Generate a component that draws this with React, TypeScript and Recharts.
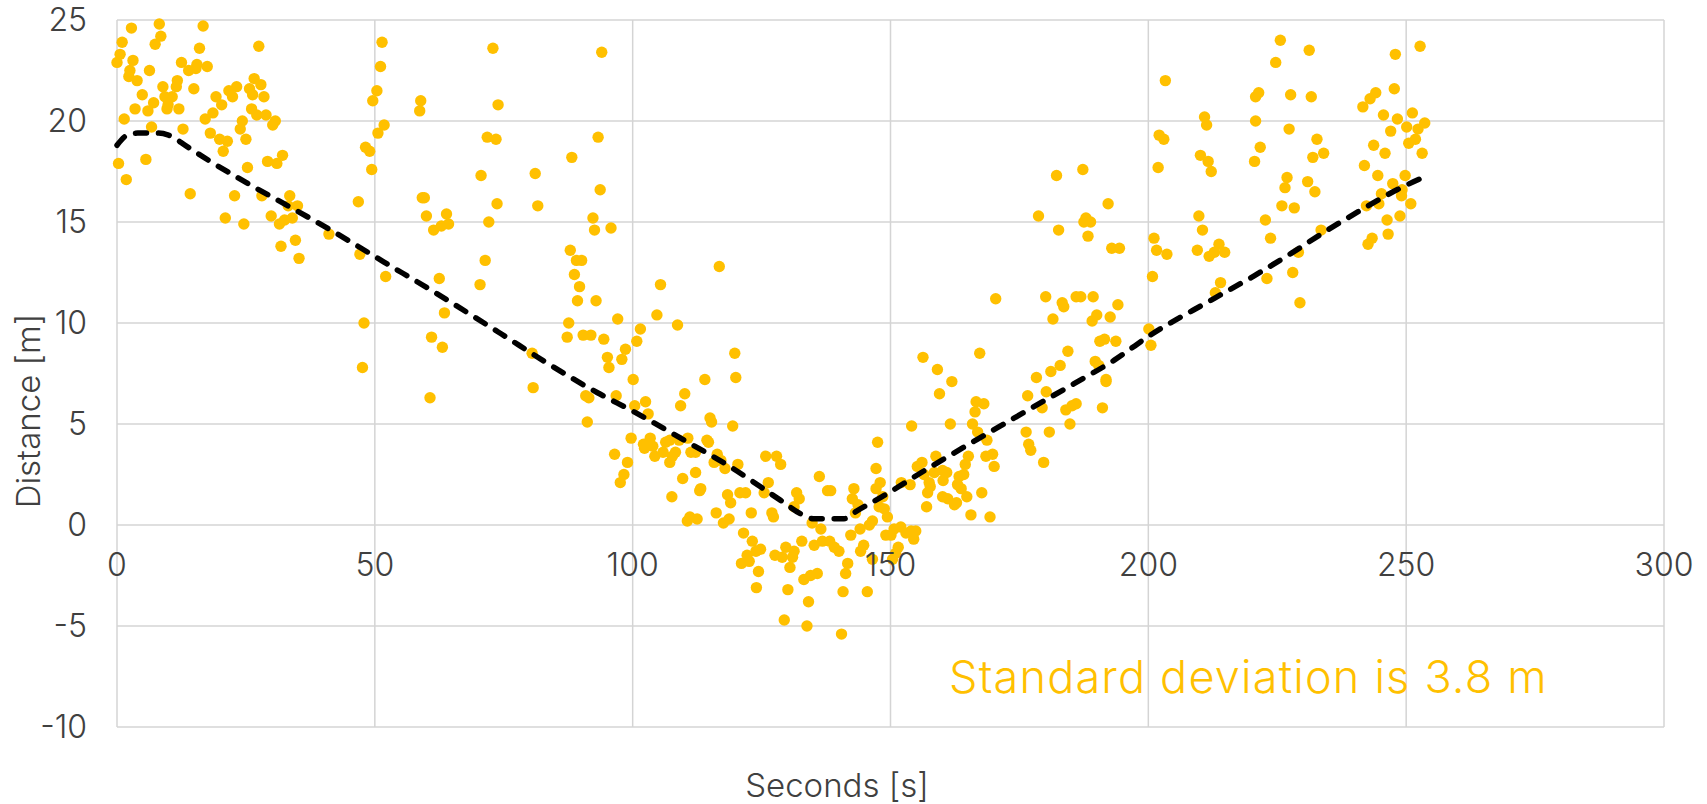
import { ScatterChart, Scatter, XAxis, YAxis, CartesianGrid } from 'recharts';

// measured samples, [seconds, distance]
const startCluster: [number, number][] = [
  [0, 22.9], [0.6, 23.3], [1, 23.9], [2.8, 24.6], [8.2, 24.8], [16.7, 24.7], [8.5, 24.2], [7.4, 23.8], [16, 23.6], [27.5, 23.7],
  [3.1, 23], [6.3, 22.5], [2.5, 22.5], [2.3, 22.2], [3.9, 22], [12.5, 22.9], [15.5, 22.8], [17.5, 22.7], [13.9, 22.5], [15.3, 22.6],
  [8.9, 21.7], [11.7, 22], [11.5, 21.7], [10.7, 21.2], [9.3, 21.2], [4.9, 21.3], [7.1, 20.9], [9.9, 20.8], [9.7, 20.6], [6, 20.5],
  [3.5, 20.6], [12, 20.6], [14.9, 21.6], [1.4, 20.1], [6.7, 19.7], [12.8, 19.6], [5.6, 18.1], [0.3, 17.9], [1.8, 17.1], [14.2, 16.4],
  [19.2, 21.2], [20.3, 20.8], [18.6, 20.4], [17.1, 20.1], [18.1, 19.4], [21.7, 21.5], [22.4, 21.2], [23.2, 21.7], [19.9, 19.1], [21.4, 19],
  [20.6, 18.5], [24.3, 20], [23.9, 19.6], [25, 19.1], [25.3, 17.7], [25.7, 21.6], [26.3, 21.3], [26.6, 22.1], [27.9, 21.8], [28.5, 21.2],
  [26.1, 20.6], [27.1, 20.3], [28.9, 20.3], [30.7, 20], [30.2, 19.8], [29.2, 18], [31, 17.9], [32.1, 18.3], [22.8, 16.3], [28.1, 16.3],
  [33.5, 16.3], [33.2, 15.8], [35, 15.8], [21, 15.2], [24.6, 14.9], [29.9, 15.3], [31.5, 14.9], [32.5, 15.1], [34, 15.2], [31.8, 13.8],
  [34.6, 14.1], [35.3, 13.2], [41.1, 14.4],
];

const descentPoints: [number, number][] = [
  [46.8, 16], [47.1, 13.4], [52.1, 12.3], [47.9, 10], [47.6, 7.8], [51.4, 23.9], [51.1, 22.7], [50.4, 21.5], [49.6, 21], [51.8, 19.8],
  [50.6, 19.4], [48.2, 18.7], [49, 18.5], [49.4, 17.6], [58.9, 21], [58.7, 20.5], [72.9, 23.6], [73.9, 20.8], [71.8, 19.2], [73.5, 19.1],
  [70.6, 17.3], [73.7, 15.9], [59.2, 16.2], [59.6, 16.2], [60, 15.3], [63.9, 15.4], [62.9, 14.8], [64.3, 14.9], [61.4, 14.6], [72.1, 15],
  [71.4, 13.1], [70.4, 11.9], [62.5, 12.2], [63.5, 10.5], [61, 9.3], [63.1, 8.8], [60.7, 6.3], [80.7, 6.8],
  [94, 23.4], [93.3, 19.2], [88.2, 18.2], [81.1, 17.4], [93.7, 16.6], [81.6, 15.8], [92.3, 15.2], [92.6, 14.6], [95.8, 14.7], [87.9, 13.6],
  [89.1, 13.1], [90.1, 13.1], [88.7, 12.4], [89.7, 11.8], [89.3, 11.1], [92.9, 11.1], [97.1, 10.2], [87.6, 10], [87.3, 9.3], [90.4, 9.4],
  [91.9, 9.4], [94.4, 9.2], [80.5, 8.5], [95.1, 8.3], [95.4, 7.8], [97.9, 8.2], [98.6, 8.7], [100.8, 9.1], [101.5, 9.7], [104.7, 10.4],
  [108.7, 9.9], [105.4, 11.9], [116.8, 12.8], [119.8, 8.5], [120, 7.3], [114, 7.2], [100.1, 7.2],
];

const valleyPoints: [number, number][] = [
  [90.9, 6.4], [91.5, 6.3], [96.8, 6.4], [91.2, 5.1], [100.4, 5.9], [102.5, 6.1], [103, 5.5], [110.1, 6.5], [109.3, 5.9], [115, 5.3],
  [115.3, 5.1], [119.4, 4.9], [99.7, 4.3], [103.4, 4.3], [102.1, 4], [102.3, 3.8], [103.9, 3.9], [106.4, 4.1], [107.2, 4.2], [109, 4.2],
  [110.7, 4.3], [108.3, 3.6], [107.7, 3.4], [107.2, 3.1], [105.9, 3.6], [104.3, 3.4], [111.3, 3.6], [112.2, 3.6], [114.7, 4.1], [114.4, 4.2],
  [116.4, 3.5], [115.8, 3.1], [117.1, 3.2], [117.9, 2.8], [120.4, 3], [96.5, 3.5], [99, 3.1], [98.3, 2.5], [97.6, 2.1], [109.7, 2.3],
  [112.2, 2.6], [113, 1.7], [113.2, 1.8], [107.6, 1.4], [118.4, 1.5], [119, 1.1], [120.8, 1.6], [121.9, 1.6], [116.2, 0.6], [123, 0.6],
  [110.6, 0.2], [111.1, 0.4], [112.5, 0.3], [117.6, 0.1], [118.7, 0.3], [125.8, 3.4], [127.9, 3.4], [128.7, 3], [125.5, 1.6], [126.3, 2.1],
  [127, 0.6], [127.3, 0.4], [131.8, 1.6], [132.3, 1.3], [131.3, 0.9], [136.2, 2.4], [137.8, 1.7], [138.4, 1.7], [142.9, 1.8], [142.6, 1.3],
  [143.7, 1], [143.2, 0.6], [147.5, 4.1], [147.2, 2.8], [147.2, 1.8], [147.8, 0.9], [134.8, 0.1], [136.5, -0.2], [121.5, -0.4], [123.2, -0.8],
  [124.8, -1.2], [123.9, -1.3], [122.2, -1.5], [121.1, -1.9], [122.6, -1.8], [124.4, -2.3], [124, -3.1], [127.6, -1.5], [129, -1.6], [129.7, -1.1],
  [131.3, -1.3], [131, -1.6], [130.5, -2.1], [132.8, -0.8], [135.2, -1], [136.8, -0.8], [138.2, -0.8], [139.1, -1.1], [140, -1.3], [142.3, -0.5],
  [144.1, -0.2], [145.9, 0], [146.5, 0.2], [144.8, -1], [144.2, -1.3], [141.7, -1.9], [141.3, -2.4], [133.2, -2.7], [134.5, -2.5], [135.8, -2.4],
  [130.1, -3.2], [134.1, -3.8], [140.8, -3.3], [145.5, -3.3], [129.4, -4.7], [133.8, -5], [140.5, -5.4], [146.5, -1.7],
];

const risePoints: [number, number][] = [
  [148, 2.1], [148.5, 1.4], [148.8, 0.8], [149.4, 0.4], [149.1, -0.5], [150.1, -0.5], [150.7, -0.2], [152, -0.1], [153, -0.4], [154, -0.3],
  [154.9, -0.3], [154.5, -0.7], [151.5, -1.1], [151, -1.4], [150.4, -1.7], [152.1, 2.1], [153.8, 2], [155.2, 2.9], [156.1, 3.1], [156.5, 2.5],
  [158.8, 3.4], [157.5, 2.1], [157.7, 1.9], [157.2, 1.6], [157, 0.9], [158.5, 2.6], [160.1, 2.7], [160.9, 2.6], [160.2, 2.2], [160.1, 1.4],
  [161.1, 1.3], [162.4, 1], [162.8, 1.1], [163.3, 2.4], [164.2, 2.5], [163, 2], [163.7, 1.8], [164.8, 1.4], [164.5, 3], [165.1, 3.4],
  [165.6, 0.5], [167.7, 1.6], [169.3, 0.4], [165.9, 5], [166.4, 5.6], [166.6, 6.1], [168.1, 6], [166.9, 4.6], [168.7, 4.2], [168.5, 3.4],
  [169.8, 3.5], [170.1, 2.9], [154.1, 4.9], [161.6, 5], [159.5, 6.5], [156.3, 8.3], [159.1, 7.7], [167.3, 8.5], [161.9, 7.1],
  [180.2, 6.6], [176.6, 6.4], [179.4, 5.8], [184, 5.7], [185.2, 5.9], [186, 6], [184.8, 5], [180.8, 4.6], [176.3, 4.6], [176.8, 4],
  [177.2, 3.7], [179.7, 3.1], [191.1, 5.8], [191.8, 7.1], [170.4, 11.2], [180.1, 11.3], [183.3, 11], [183.6, 10.8], [186, 11.3], [186.9, 11.3],
  [189.3, 11.3], [194.1, 10.9], [181.5, 10.2], [190, 10.4], [189.1, 10.1], [192.6, 10.3], [200.1, 9.7], [200.5, 8.9], [190.6, 9.1], [191.5, 9.2],
  [193.7, 9.1], [184.4, 8.6], [189.7, 8.1], [190.4, 7.9], [182.9, 7.9], [181.1, 7.6], [178.3, 7.3], [191.8, 7.2],
  [182.2, 17.3], [187.3, 17.6], [192.2, 15.9], [178.7, 15.3], [182.6, 14.6], [187.9, 15.2], [187.5, 15], [188.8, 15], [188.3, 14.3], [192.9, 13.7],
  [194.4, 13.7],
];

const endCluster: [number, number][] = [
  [203.3, 22], [210.9, 20.2], [211.3, 19.8], [220.8, 21.2], [221.4, 21.4], [220.8, 20], [221.7, 18.7], [220.6, 18], [202.1, 19.3], [203, 19.1],
  [201.9, 17.7], [210.1, 18.3], [211.6, 18], [212.2, 17.5], [209.8, 15.3], [210.5, 14.6], [201.1, 14.2], [201.6, 13.6], [203.6, 13.4], [209.5, 13.6],
  [211.8, 13.3], [212.8, 13.5], [213.7, 13.9], [214.8, 13.5], [200.8, 12.3], [214, 12], [213, 11.5],
  [225.6, 24], [231.2, 23.5], [224.7, 22.9], [252.7, 23.7], [247.9, 23.3], [227.6, 21.3], [231.6, 21.2], [227.3, 19.6], [232.7, 19.1], [231.9, 18.2],
  [234, 18.4], [241.6, 20.7], [243, 21.1], [244.1, 21.4], [247.7, 21.6], [245.6, 20.3], [248.3, 20.1], [251.2, 20.4], [250.1, 19.7], [252.3, 19.6],
  [253.6, 19.9], [247, 19.5], [251.8, 19.1], [250.5, 18.9], [253.1, 18.4], [243.7, 18.8], [245.9, 18.4], [241.9, 17.8], [244.5, 17.3], [249.8, 17.3],
  [247.4, 16.9], [249.2, 16.6], [249.1, 16.3], [245.2, 16.4], [250.9, 15.9], [244.7, 15.9], [242.3, 15.8], [246.3, 15.1], [248.8, 15.3], [246.5, 14.4],
  [242.6, 13.9], [243.4, 14.2], [226.9, 17.2], [226.5, 16.7], [230.9, 17], [232.3, 16.5], [225.9, 15.8], [228.3, 15.7], [222.7, 15.1], [223.7, 14.2],
  [233.5, 14.6], [229.1, 13.5], [228, 12.5], [223, 12.2], [229.4, 11],
];

// moving-average trend
const trendLine: [number, number][] = [
  [0, 18.8], [2, 19.3], [4, 19.4], [8, 19.4], [10, 19.3], [13.6, 18.73], [18.1, 18.0], [25.9, 16.83], [32.3, 15.92], [42, 14.52],
  [51.7, 13.03], [61.4, 11.55], [74.4, 9.48], [83.4, 8.02], [93.1, 6.56], [100.3, 5.6], [109.3, 4.3], [119, 2.87], [128.7, 1.22], [133, 0.5],
  [135, 0.31], [141, 0.31], [143.5, 0.7], [148.3, 1.39], [157.2, 2.79], [168.8, 4.53], [176.6, 5.68], [185.6, 7], [193.4, 8.16], [199.9, 9.32],
  [212.8, 11.22], [220.6, 12.35], [227.7, 13.45], [233.5, 14.4], [241.3, 15.6], [248.4, 16.62], [253.7, 17.25],
];

const xTicks = [0, 50, 100, 150, 200, 250, 300];
const yTicks = [-10, -5, 0, 5, 10, 15, 20, 25];

const W = 1707;
const H = 804;
const margin = { top: 20, right: 43, bottom: 76, left: 0 };
const FONT = 'Inter, "Noto Sans", sans-serif';
const GOLD = '#FFC000';
const TEXT = '#404040';

const toPoints = (pairs: [number, number][]) => pairs.map(([x, y]) => ({ x, y }));
const scatterData = toPoints([...startCluster, ...descentPoints, ...valleyPoints, ...risePoints, ...endCluster]);
const trendData = toPoints(trendLine);

// x labels sit next to the y = 0 line, not at the bottom of the plot
const plotH = H - margin.top - margin.bottom - 1;
const zeroLift = (plotH * (0 - yTicks[0])) / (yTicks[yTicks.length - 1] - yTicks[0]);

const XTick = (props: any) => {
  const { x, y, payload } = props;
  return (
    <text x={x} y={y - 1 - zeroLift + 40} textAnchor="middle" dominantBaseline="central"
      fill={TEXT} fontSize={32} fontFamily={FONT} fontWeight={300}>
      {payload.value}
    </text>
  );
};

const Dot = (props: any) => <circle cx={props.cx} cy={props.cy} r={5.7} fill={GOLD} />;

export default function App() {
  return (
    <div style={{ position: 'absolute', left: 0, top: 0, width: W, height: H, background: '#fff' }}>
      <ScatterChart width={W} height={H} margin={margin}>
        <CartesianGrid stroke="#d4d4d4" strokeWidth={1.5} />
        <XAxis type="number" dataKey="x" domain={[0, 300]} ticks={xTicks} height={1}
          axisLine={false} tickLine={false} tickSize={0} tickMargin={0}
          tick={(p: any) => <XTick {...p} />} />
        <YAxis type="number" dataKey="y" domain={[-10, 25]} ticks={yTicks} width={117}
          axisLine={false} tickLine={false} tickSize={0} tickMargin={30}
          tick={{ fill: TEXT, fontSize: 32, fontFamily: FONT, fontWeight: 300 }} />
        <Scatter data={scatterData} shape={<Dot />} isAnimationActive={false} />
        <Scatter data={trendData} shape={() => <g />} isAnimationActive={false}
          line={{ stroke: '#000', strokeWidth: 5.5, strokeDasharray: '11 12', strokeLinecap: 'round' }}
          lineType="joint" lineJointType="monotoneX" stroke="#000" />
      </ScatterChart>
      <svg width={W} height={H} style={{ position: 'absolute', left: 0, top: 0, pointerEvents: 'none' }}>
        <text x={28} y={411} transform="rotate(-90 28 411)" textAnchor="middle" dominantBaseline="central"
          fill={TEXT} fontSize={33} fontFamily={FONT} fontWeight={300}>
          Distance [m]
        </text>
        <text x={837} y={797} textAnchor="middle" fill={TEXT} fontSize={33} fontFamily={FONT} fontWeight={300}>
          Seconds [s]
        </text>
        <text x={949} y={693} fill={GOLD} fontSize={45} fontFamily={FONT} fontWeight={300} letterSpacing={1.2}>
          Standard deviation is 3.8 m
        </text>
      </svg>
    </div>
  );
}
